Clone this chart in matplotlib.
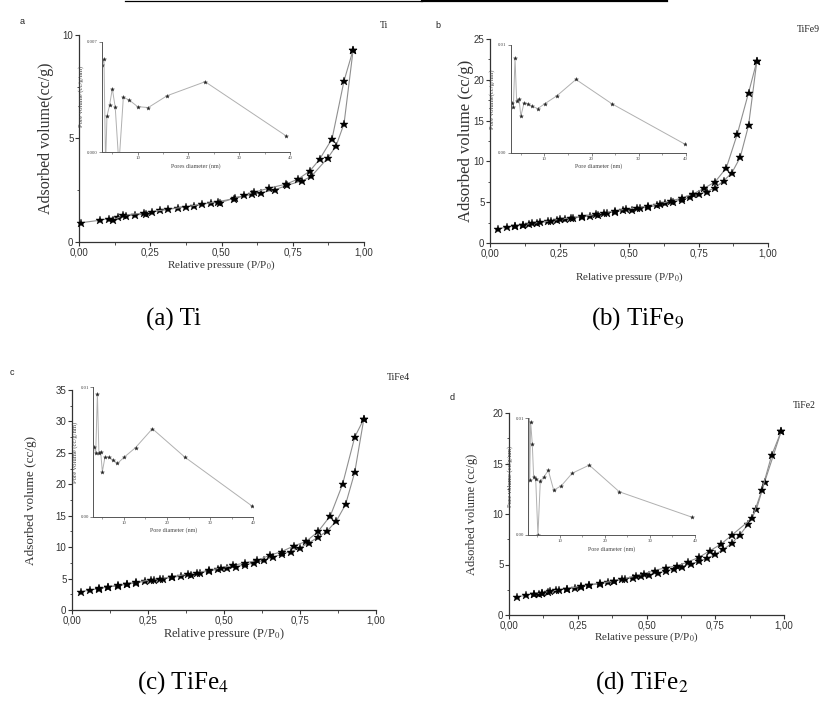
import matplotlib
matplotlib.use("Agg")
import matplotlib.pyplot as plt
from matplotlib.ticker import MultipleLocator, FixedLocator
from matplotlib.lines import Line2D

plt.rcParams['mathtext.fontset'] = 'stix'
SERIF = 'Liberation Serif'
SANS = 'Liberation Sans'

W, H = 819, 706

# ---------------- data ----------------
# Panel a (Ti)
a_ads_x = [0.006, 0.073, 0.104, 0.137, 0.166, 0.195, 0.234, 0.284, 0.348, 0.403, 0.463, 0.495,
           0.548, 0.608, 0.640, 0.689, 0.730, 0.784, 0.815, 0.873, 0.902, 0.930, 0.962]
a_ads_y = [0.93, 1.05, 1.13, 1.21, 1.27, 1.29, 1.37, 1.53, 1.66, 1.74, 1.90, 1.90,
           2.13, 2.30, 2.38, 2.53, 2.74, 2.96, 3.17, 4.06, 4.64, 5.72, 9.29]
a_des_x = [0.962, 0.930, 0.888, 0.844, 0.810, 0.770, 0.728, 0.666, 0.614, 0.579, 0.545, 0.489,
           0.432, 0.376, 0.314, 0.257, 0.228, 0.156, 0.119]
a_des_y = [9.29, 7.79, 4.99, 3.99, 3.43, 3.05, 2.80, 2.60, 2.40, 2.25, 2.10, 1.95,
           1.83, 1.70, 1.58, 1.47, 1.40, 1.30, 1.05]
a_pore_d = [3.06, 3.39, 3.7, 3.98, 4.5, 5.03, 5.6, 6.33, 7.2, 8.35, 10.0, 12.1, 15.8, 23.3, 39.2]
a_pore_v = [0.00552, 0.00588, -0.0008, 0.00228, 0.00298, 0.00402, 0.00284, -0.0008,
            0.00347, 0.0033, 0.00288, 0.00282, 0.00357, 0.00446, 0.00103]

# Panel b (TiFe9)
b_ads_x = [0.03, 0.06, 0.09, 0.12, 0.14, 0.17, 0.21, 0.24, 0.27, 0.30, 0.33, 0.36, 0.39, 0.42,
           0.45, 0.48, 0.51, 0.54, 0.57, 0.60, 0.63, 0.66, 0.69, 0.72, 0.75, 0.78, 0.81, 0.84,
           0.87, 0.90, 0.93, 0.96]
b_ads_y = [1.75, 1.95, 2.05, 2.2, 2.3, 2.45, 2.65, 2.8, 2.9, 3.05, 3.2, 3.35, 3.45, 3.65,
           3.85, 4.0, 4.1, 4.25, 4.4, 4.6, 4.85, 5.05, 5.3, 5.6, 5.95, 6.3, 6.8, 7.6,
           8.6, 10.5, 14.4, 22.3]
b_des_x = [0.96, 0.93, 0.89, 0.85, 0.81, 0.77, 0.73, 0.69, 0.65, 0.61, 0.57, 0.53, 0.49, 0.45,
           0.41, 0.38, 0.33, 0.29, 0.25, 0.22, 0.18, 0.15, 0.12, 0.09]
b_des_y = [22.3, 18.4, 13.4, 9.2, 7.5, 6.7, 6.0, 5.5, 5.15, 4.8, 4.55, 4.35, 4.15, 3.95,
           3.7, 3.5, 3.25, 3.1, 2.9, 2.75, 2.55, 2.4, 2.25, 2.1]
b_pore_d = [3.19, 3.4, 3.76, 4.1, 4.6, 5.0, 5.67, 6.45, 7.4, 8.6, 10.1, 12.7, 16.7, 24.3, 39.8]
b_pore_v = [0.0046, 0.0042, 0.0088, 0.0048, 0.0050, 0.0034, 0.0046, 0.00455, 0.0043,
            0.0041, 0.00455, 0.0053, 0.0068, 0.00455, 0.0008]

# Panel c (TiFe4)
c_ads_x = [0.03, 0.06, 0.09, 0.12, 0.15, 0.18, 0.21, 0.24, 0.27, 0.30, 0.33, 0.36, 0.39, 0.42,
           0.45, 0.48, 0.51, 0.54, 0.57, 0.60, 0.63, 0.66, 0.69, 0.72, 0.75, 0.78, 0.81, 0.84,
           0.87, 0.90, 0.93, 0.96]
c_ads_y = [2.9, 3.2, 3.4, 3.7, 3.85, 4.1, 4.3, 4.6, 4.75, 4.95, 5.2, 5.4, 5.6, 5.9,
           6.2, 6.5, 6.7, 6.9, 7.2, 7.5, 7.9, 8.4, 8.9, 9.3, 9.9, 10.7, 11.6, 12.6,
           14.2, 16.8, 21.9, 30.4]
c_des_x = [0.96, 0.93, 0.89, 0.85, 0.81, 0.77, 0.73, 0.69, 0.65, 0.61, 0.57, 0.53, 0.49, 0.45,
           0.41, 0.38, 0.33, 0.29, 0.26, 0.21, 0.18, 0.15, 0.12, 0.09]
c_des_y = [30.4, 27.5, 20.0, 15.0, 12.5, 10.9, 10.2, 9.3, 8.7, 7.9, 7.5, 7.1, 6.7, 6.3,
           5.95, 5.7, 5.3, 5.0, 4.8, 4.4, 4.2, 3.9, 3.7, 3.45]
c_pore_d = [3.15, 3.46, 3.85, 4.2, 4.6, 5.0, 5.6, 6.5, 7.5, 8.5, 10.1, 12.7, 16.6, 24.1, 39.6]
c_pore_v = [0.00536, 0.0049, 0.0095, 0.00495, 0.00503, 0.00348, 0.00459, 0.00459, 0.00438,
            0.00412, 0.00461, 0.00534, 0.0068, 0.00461, 0.00085]

# Panel d (TiFe2)
d_ads_x = [0.03, 0.06, 0.09, 0.11, 0.12, 0.14, 0.17, 0.21, 0.24, 0.26, 0.29, 0.33, 0.36, 0.38,
           0.42, 0.45, 0.48, 0.51, 0.54, 0.57, 0.60, 0.63, 0.66, 0.69, 0.72, 0.75, 0.78, 0.81,
           0.84, 0.87, 0.90, 0.93, 0.99]
d_ads_y = [1.8, 1.95, 2.1, 2.1, 2.2, 2.3, 2.45, 2.6, 2.7, 2.8, 2.95, 3.1, 3.25, 3.4,
           3.55, 3.7, 3.9, 4.0, 4.15, 4.35, 4.55, 4.8, 5.05, 5.3, 5.6, 6.0, 6.5, 7.1,
           7.95, 9.0, 10.5, 13.2, 18.2]
d_des_x = [0.99, 0.955, 0.92, 0.885, 0.81, 0.77, 0.73, 0.69, 0.65, 0.61, 0.57, 0.53, 0.49, 0.46,
           0.41, 0.38, 0.33, 0.29, 0.26, 0.21, 0.18, 0.15, 0.12, 0.09]
d_des_y = [18.2, 15.8, 12.4, 9.6, 7.9, 7.0, 6.35, 5.7, 5.25, 4.85, 4.7, 4.4, 4.05, 3.85,
           3.55, 3.35, 3.15, 3.0, 2.85, 2.6, 2.5, 2.35, 2.2, 2.1]
d_pore_d = [3.0, 3.12, 3.26, 3.48, 3.85, 4.15, 4.6, 5.1, 5.63, 6.44, 7.4, 8.6, 10.3, 12.7, 16.5, 23.2, 39.3]
d_pore_v = [-0.001, 0.0115, 0.00468, 0.0097, 0.00776, 0.00497, 0.00483, 0.0, 0.00462,
            0.00497, 0.00555, 0.00384, 0.00422, 0.00529, 0.00599, 0.0037, 0.00153]

panels = [
    dict(letter='a', name='Ti', ylabel='Adsorbed volume(cc/g)',
         xlabel='Relative pressure (P/P$_0$)', ymax=10, ystep=5,
         ads=(a_ads_x, a_ads_y), des=(a_des_x, a_des_y), pore=(a_pore_d, a_pore_v),
         rect=(79, 35, 364, 242), inset=(101.7, 41.7, 290, 152), inxmin=2.94, inymax=0.007,
         inyfmt=['0.000', '0.007'], inxlabel='Pores diameter (nm)', inylabel='Pore volume (cc/g/nm)',
         letterpos=(22, 22), namepos=(380, 26), ylabx=46, ylabfs=11.5, xlabfs=8, xlaby=23,
         caption='(a) Ti', cappos=(174, 319)),
    dict(letter='b', name='TiFe9', ylabel='Adsorbed volume (cc/g)',
         xlabel='Relative pressure (P/P$_0$)', ymax=25, ystep=5,
         ads=(b_ads_x, b_ads_y), des=(b_des_x, b_des_y), pore=(b_pore_d, b_pore_v),
         rect=(490, 39, 768, 243), inset=(510.7, 45, 685.7, 152.7), inxmin=2.84, inymax=0.01,
         inyfmt=['0.00', '0.01'], inxlabel='Pore diameter (nm)', inylabel='Pore volume(cc/g/nm)',
         letterpos=(438, 25), namepos=(797, 29), ylabx=466, ylabfs=12, xlabfs=8, xlaby=34,
         caption='(b) TiFe$_9$', cappos=(638, 319)),
    dict(letter='c', name='TiFe4', ylabel='Adsorbed volume (cc/g)',
         xlabel='Relative pressure (P/P$_0$)', ymax=35, ystep=5,
         ads=(c_ads_x, c_ads_y), des=(c_des_x, c_des_y), pore=(c_pore_d, c_pore_v),
         rect=(72, 390, 376, 610), inset=(93.3, 387.3, 253.3, 516.7), inxmin=2.9, inymax=0.01,
         inyfmt=['0.00', '0.01'], inxlabel='Pore diameter (nm)', inylabel='Pore volume (cc/g/nm)',
         letterpos=(12, 373), namepos=(387, 377), ylabx=31, ylabfs=9.5, xlabfs=9, xlaby=24,
         caption='(c) TiFe$_4$', cappos=(183, 683)),
    dict(letter='d', name='TiFe2', ylabel='Adsorbed volume (cc/g)',
         xlabel='Relative pessure (P/P$_0$)', ymax=20, ystep=5,
         ads=(d_ads_x, d_ads_y), des=(d_des_x, d_des_y), pore=(d_pore_d, d_pore_v),
         rect=(509, 413, 784, 615), inset=(528.3, 418.3, 695, 535), inxmin=2.96, inymax=0.01,
         inyfmt=['0.00', '0.01'], inxlabel='Pore diameter (nm)', inylabel='Pore volume (cc/g/nm)',
         letterpos=(452, 397), namepos=(793, 405), ylabx=472, ylabfs=9, xlabfs=8, xlaby=22,
         caption='(d) TiFe$_2$', cappos=(642, 683)),
]

fig = plt.figure(figsize=(W / 100, H / 100), dpi=100)
fig.patch.set_facecolor('white')


def frac_rect(l, t, r, b):
    return [l / W, 1 - b / H, (r - l) / W, (b - t) / H]


def style_axes(ax, lw=0.9, color='#333333'):
    for s in ('top', 'right'):
        ax.spines[s].set_visible(False)
    for s in ('left', 'bottom'):
        ax.spines[s].set_linewidth(lw)
        ax.spines[s].set_color(color)
    ax.patch.set_alpha(0)


for p in panels:
    l, t, r, b = p['rect']
    ax = fig.add_axes(frac_rect(*p['rect']))
    style_axes(ax)
    for xs, ys in (p['ads'], p['des']):
        ax.plot(xs, ys, color='#8f8f8f', lw=0.8, marker='*', ms=6.3, mfc='black', mec='black',
                mew=0.3, zorder=3, clip_on=False)
    ax.set_xlim(0, 1.0)
    ax.set_ylim(0, p['ymax'])
    ax.xaxis.set_minor_locator(MultipleLocator(0.125))
    ax.yaxis.set_major_locator(MultipleLocator(p['ystep']))
    ax.yaxis.set_minor_locator(MultipleLocator(p['ystep'] / 2))
    ax.set_xticks([0, 0.25, 0.5, 0.75, 1.0])
    ax.set_xticklabels(['0,00', '0,25', '0,50', '0,75', '1,00'])
    ax.tick_params(which='major', direction='out', length=3, width=0.8, color='#333333',
                   labelsize=7, pad=1, labelcolor='#333333')
    ax.tick_params(which='minor', direction='out', length=1.8, width=0.6, color='#333333')
    for lab in ax.get_xticklabels() + ax.get_yticklabels():
        lab.set_fontfamily(SANS)
    ax.set_xlabel(p['xlabel'], fontfamily=SERIF, fontsize=p['xlabfs'], color='#333333')
    ax.xaxis.label.set_va('center')
    ax.xaxis.set_label_coords(0.5, -p['xlaby'] / (b - t))
    ax.set_ylabel(p['ylabel'], fontfamily=SERIF, fontsize=p['ylabfs'], color='#333333')
    ax.yaxis.label.set_va('center')
    ax.yaxis.set_label_coords((p['ylabx'] - l) / (r - l), 0.5)

    # inset: pore size distribution
    ia = fig.add_axes(frac_rect(*p['inset']))
    style_axes(ia, lw=0.7, color='#555555')
    ia.plot(p['pore'][0], p['pore'][1], color='#b0b0b0', lw=0.7, marker='*', ms=3,
            mfc='#222222', mec='#222222', mew=0.2)
    ia.set_xlim(p['inxmin'], 40)
    ia.set_ylim(0, p['inymax'])
    ia.set_xticks([10, 20, 30, 40])
    ia.xaxis.set_minor_locator(FixedLocator([5, 15, 25, 35]))
    ia.set_yticks([0, p['inymax']])
    ia.set_yticklabels(p['inyfmt'])
    ia.tick_params(which='major', direction='out', length=2, width=0.5, color='#555555',
                   labelsize=3.5, pad=1, labelcolor='#444444')
    ia.tick_params(which='minor', direction='out', length=1.2, width=0.4, color='#555555')
    for lab in ia.get_xticklabels() + ia.get_yticklabels():
        lab.set_fontfamily(SERIF)
    ia.set_xlabel(p['inxlabel'], fontfamily=SERIF, fontsize=4.3, labelpad=2, color='#444444')
    ia.set_ylabel(p['inylabel'], fontfamily=SERIF, fontsize=4.8, labelpad=2, color='#444444')

    fig.text(p['letterpos'][0] / W, 1 - p['letterpos'][1] / H, p['letter'], fontfamily=SANS,
             fontsize=6.5, ha='center', va='center', color='#222222')
    fig.text(p['namepos'][0] / W, 1 - p['namepos'][1] / H, p['name'], fontfamily=SERIF,
             fontsize=7, ha='left', va='center', color='#222222')
    fig.text(p['cappos'][0] / W, 1 - p['cappos'][1] / H, p['caption'], fontfamily=SERIF,
             fontsize=18, ha='center', va='center', color='black')

# top black rule
fig.add_artist(Line2D([125 / W, 422 / W], [1 - 0.6 / H, 1 - 0.6 / H], color='black', lw=0.9))
fig.add_artist(Line2D([422 / W, 667 / W], [1 - 1.0 / H, 1 - 1.0 / H], color='black', lw=1.6))

fig.savefig('out.png', dpi=100, facecolor='white')
